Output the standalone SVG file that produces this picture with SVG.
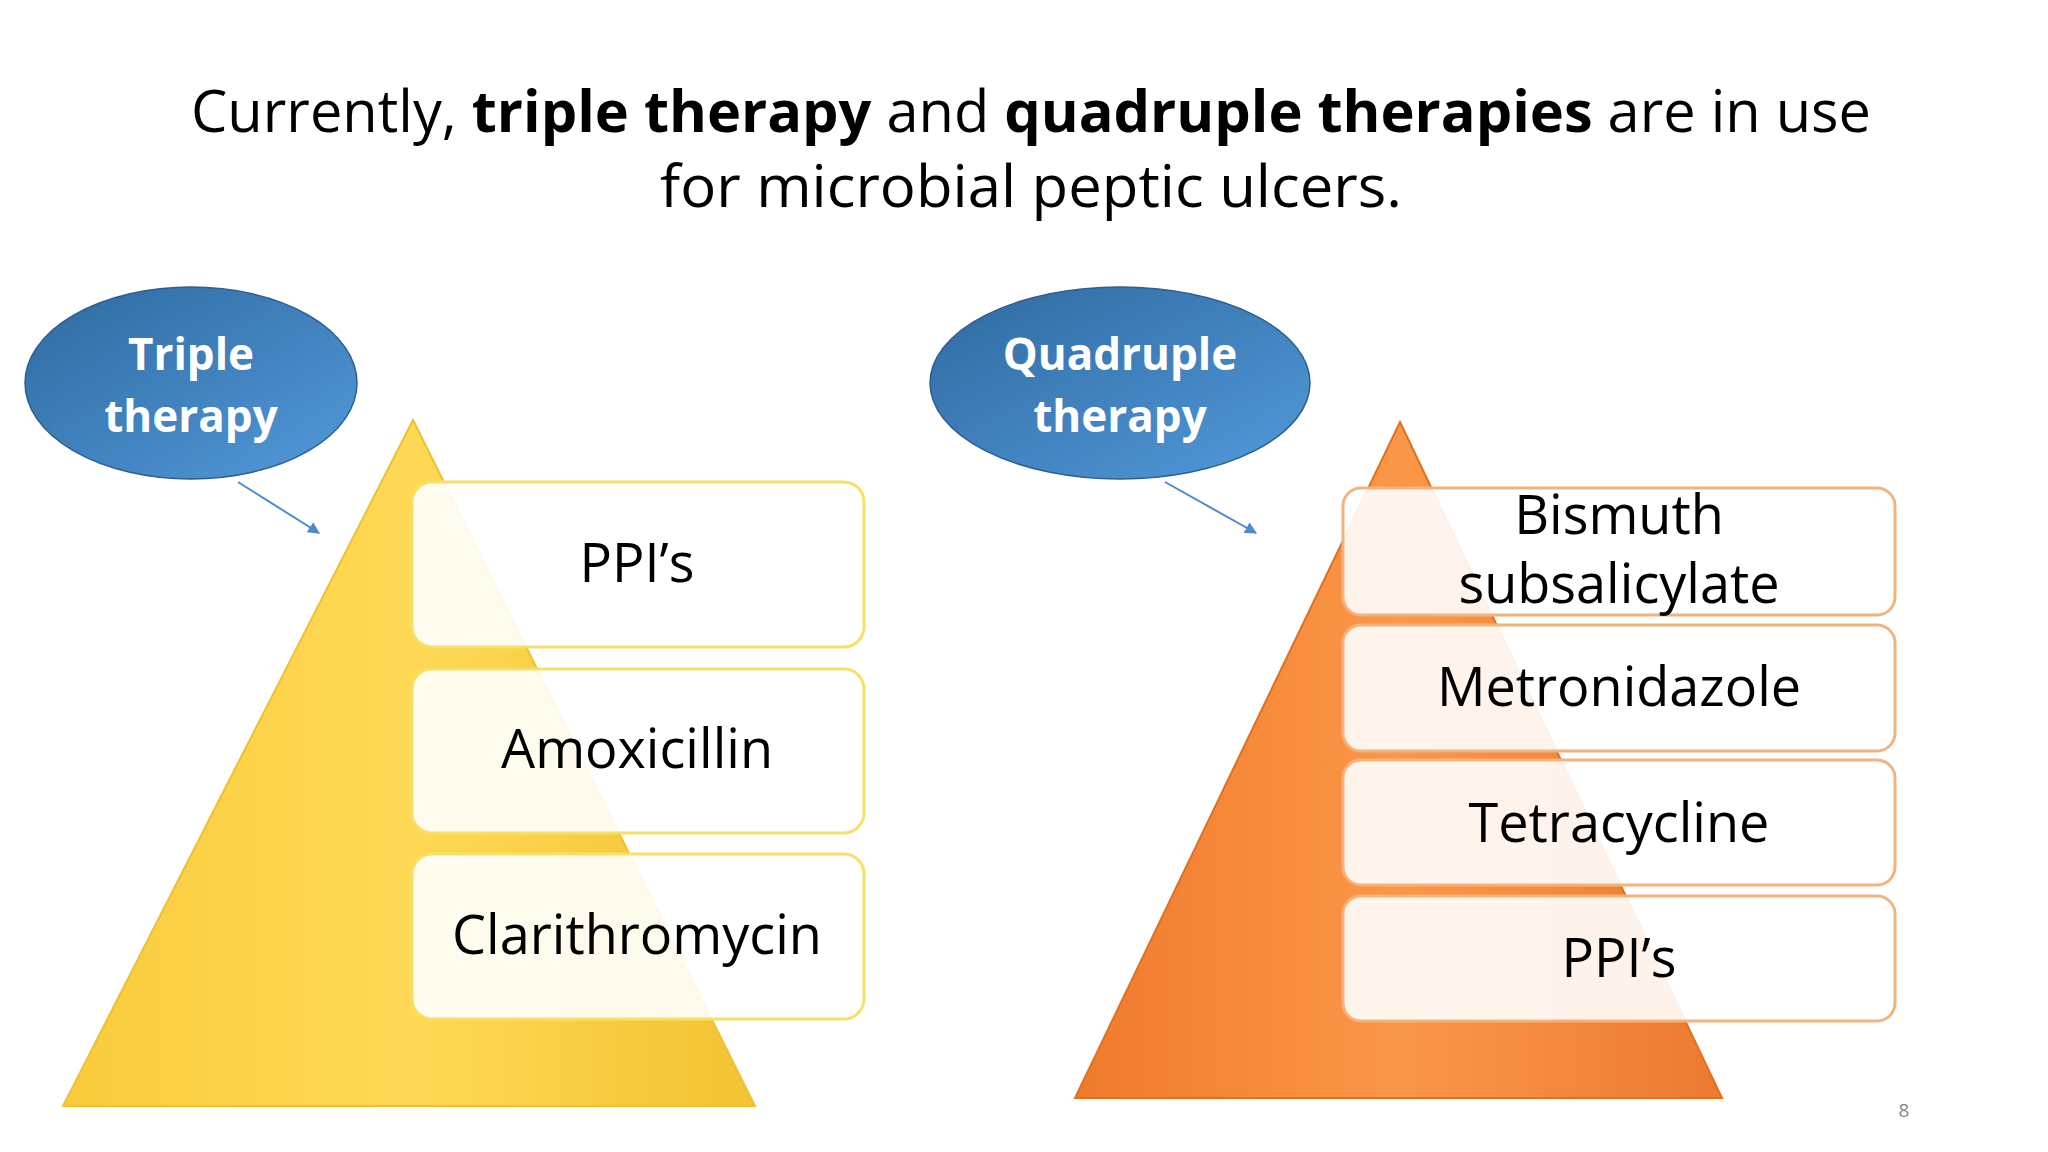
<svg xmlns="http://www.w3.org/2000/svg" width="2048" height="1152" viewBox="0 0 2048 1152">
<defs>
<linearGradient id="gb" x1="0" y1="0" x2="1" y2="1"><stop offset="0" stop-color="#2F6AA0"/><stop offset="1" stop-color="#5299DA"/></linearGradient>
<linearGradient id="gy" x1="0" y1="0" x2="1" y2="0"><stop offset="0" stop-color="#F9CB3C"/><stop offset="0.5" stop-color="#FFD955"/><stop offset="1" stop-color="#F2C232"/></linearGradient>
<linearGradient id="go" x1="0" y1="0" x2="1" y2="0"><stop offset="0" stop-color="#F07A2C"/><stop offset="0.5" stop-color="#FB9748"/><stop offset="1" stop-color="#EC7A30"/></linearGradient>
<marker id="ar" viewBox="0 0 10 10" refX="9" refY="5" markerWidth="6" markerHeight="6" orient="auto"><path d="M0,0 L10,5 L0,10 z" fill="#4A8AD0"/></marker>
</defs>
<style>
.t{font-family:"Open Sans","Liberation Sans",sans-serif;fill:#000}
.e{font-family:"Open Sans","Liberation Sans",sans-serif;font-weight:bold;fill:#fff;font-size:44px;text-anchor:middle}
.by{fill:#fff;fill-opacity:0.9;stroke:#F6E06A;stroke-width:3}
.bo{fill:#fff;fill-opacity:0.9;stroke:#F3B37E;stroke-width:3}
.bt{font-family:"Open Sans","Liberation Sans",sans-serif;font-size:54px;text-anchor:middle;fill:#000}
</style>
<rect width="2048" height="1152" fill="#fff"/>
<g id="title" class="t" font-size="58">
<text x="191" y="132" textLength="1680" lengthAdjust="spacingAndGlyphs">Currently, <tspan font-weight="bold">triple therapy</tspan> and <tspan font-weight="bold">quadruple therapies</tspan> are in use</text>
<text x="660" y="207" textLength="742" lengthAdjust="spacingAndGlyphs">for microbial peptic ulcers.</text>
</g>
<g id="pyramid-left">
<polygon points="413,420 755,1106 63,1106" fill="url(#gy)" stroke="#EFC030" stroke-width="2"/>
</g>
<g id="pyramid-right">
<polygon points="1400,422 1722,1098 1075,1098" fill="url(#go)" stroke="#E07020" stroke-width="2"/>
</g>
<g id="box-ppi-left"><rect class="by" x="412" y="482" width="452" height="165" rx="20"/><text class="bt" x="637" y="582">PPI’s</text></g>
<g id="box-amox"><rect class="by" x="412" y="669" width="452" height="164" rx="20"/><text class="bt" x="637" y="768">Amoxicillin</text></g>
<g id="box-clari"><rect class="by" x="412" y="854" width="452" height="165" rx="20"/><text class="bt" x="637" y="954">Clarithromycin</text></g>
<g id="box-bismuth"><rect class="bo" x="1343" y="488" width="552" height="127" rx="18"/><text class="bt" x="1619" y="534">Bismuth</text><text class="bt" x="1619" y="603">subsalicylate</text></g>
<g id="box-metro"><rect class="bo" x="1343" y="625" width="552" height="126" rx="18"/><text class="bt" x="1619" y="706">Metronidazole</text></g>
<g id="box-tetra"><rect class="bo" x="1343" y="760" width="552" height="125" rx="18"/><text class="bt" x="1619" y="842">Tetracycline</text></g>
<g id="box-ppi-right"><rect class="bo" x="1343" y="896" width="552" height="125" rx="18"/><text class="bt" x="1619" y="977">PPI’s</text></g>
<g id="oval-triple"><ellipse cx="191" cy="383" rx="166" ry="96" fill="url(#gb)" stroke="#2E5F8F" stroke-width="1.5"/><text class="e" x="191" y="370">Triple</text><text class="e" x="191" y="432">therapy</text></g>
<g id="oval-quad"><ellipse cx="1120" cy="383" rx="190" ry="96" fill="url(#gb)" stroke="#2E5F8F" stroke-width="1.5"/><text class="e" x="1120" y="370">Quadruple</text><text class="e" x="1120" y="432">therapy</text></g>
<g id="connectors" stroke="#4A8AD0" stroke-width="2" fill="none">
<line x1="238" y1="482" x2="319" y2="533" marker-end="url(#ar)"/>
<line x1="1165" y1="482" x2="1256" y2="533" marker-end="url(#ar)"/>
</g>
<text x="1904" y="1117" font-family="Open Sans, sans-serif" font-size="19" fill="#888" text-anchor="middle">8</text>
</svg>
